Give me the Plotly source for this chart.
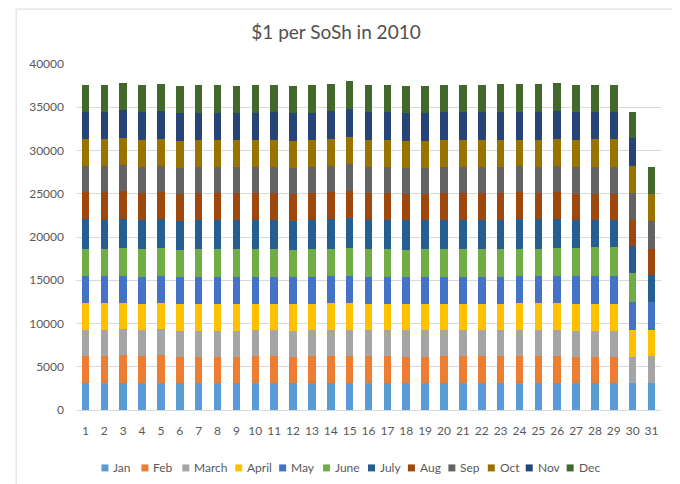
import plotly.graph_objects as go

days = [str(d) for d in range(1, 32)]
months = ["Jan", "Feb", "March", "April", "May", "June", "July", "Aug", "Sep", "Oct", "Nov", "Dec"]

jan = [3150,3150,3160,3140,3160,3080,3080,3080,3080,3090,3100,3080,3090,3120,3120,3100,3090,3080,3080,3100,3110,3110,3100,3120,3100,3120,3080,3070,3070,3150,3150]
feb = [3115,3090,3150,3070,3150,3100,3100,3100,3100,3110,3120,3100,3110,3120,3110,3120,3130,3090,3100,3100,3110,3100,3110,3110,3130,3120,3100,3080,3080,None,None]
mar = [3040,3040,3060,3040,3010,3000,3000,3000,3010,3020,3030,3010,3020,3040,3040,3040,3030,3030,3020,3030,3030,3040,3040,3040,3040,3040,3010,3000,3000,3000,3080]
apr = [3035,3050,3010,3040,3050,3040,3050,3060,3050,3050,3050,3040,3050,3050,3080,3050,3050,3040,3050,3050,3050,3060,3060,3050,3060,3060,3110,3150,3150,3080,3000]
may = [3115,3110,3140,3110,3110,3110,3120,3120,3120,3110,3110,3110,3110,3130,3140,3120,3110,3110,3110,3110,3110,3120,3120,3130,3120,3130,3180,3200,3200,3260,3260]
jun = [3195,3200,3210,3200,3200,3200,3210,3210,3200,3200,3200,3200,3200,3210,3250,3200,3210,3200,3200,3210,3210,3200,3210,3210,3210,3240,3300,3340,3340,3350,None]
jul = [3380,3380,3400,3370,3380,3350,3370,3360,3370,3360,3370,3350,3360,3380,3420,3370,3370,3360,3360,3370,3370,3370,3380,3370,3370,3380,3200,3160,3160,3110,3160]
aug = [3150,3140,3160,3130,3170,3120,3120,3120,3110,3110,3120,3120,3110,3130,3200,3110,3110,3100,3100,3110,3110,3100,3110,3120,3110,3120,3010,3000,3000,3050,2920]
sep = [3000,3010,3020,3010,3010,3010,3010,3000,3000,3000,3010,3000,3000,3010,3050,3000,3000,3000,3000,3000,3000,3010,3010,3010,3000,3020,3050,3060,3060,3070,3230]
oct_ = [3120,3120,3130,3120,3130,3110,3120,3120,3130,3120,3130,3110,3120,3130,3170,3110,3120,3120,3110,3120,3110,3110,3120,3110,3120,3120,3230,3240,3240,3190,3200]
nov = [3190,3190,3200,3200,3190,3200,3200,3200,3200,3200,3200,3200,3200,3200,3220,3200,3200,3200,3200,3200,3200,3200,3200,3200,3200,3200,3190,3190,3190,3190,None]
dec = [3110,3080,3150,3130,3120,3150,3140,3150,3140,3150,3160,3130,3150,3140,3220,3160,3140,3160,3150,3160,3150,3140,3180,3170,3180,3210,3100,3070,3070,3040,3060]

series = [jan, feb, mar, apr, may, jun, jul, aug, sep, oct_, nov, dec]
colors = ["#5B9BD5", "#ED7D31", "#A5A5A5", "#FFC000", "#4472C4", "#70AD47",
          "#255E91", "#9E480E", "#636363", "#997300", "#264478", "#43682B"]

FONT = "Lato"
TXT = "#595959"

fig = go.Figure()
for name, vals, col in zip(months, series, colors):
    fig.add_trace(go.Bar(x=days, y=vals, name=name, marker=dict(color=col, line=dict(width=0)),
                         showlegend=False))

# page geometry (pixels in the 680x484 window); the page body adds an 8px margin
OFF = 8
PAGE_W, PAGE_H = 680, 484
W, H = PAGE_W - OFF, PAGE_H - OFF
L, R, T, B = 75.5 - OFF, 661.5 - OFF, 63.5 - OFF, 410 - OFF
pw, ph = R - L, B - T

def px_x(p):
    return (p - OFF - L) / pw

def px_y(p):
    return (B - (p - OFF)) / ph

shapes = []
annotations = []
# chart-area border
shapes.append(dict(type="rect", xref="paper", yref="paper",
                   x0=px_x(15.5), x1=px_x(676), y0=px_y(495), y1=px_y(8.5),
                   line=dict(color="#D9D9D9", width=1), fillcolor="rgba(0,0,0,0)", layer="below"))

# custom legend
legend_left = [101, 141, 182, 235, 279, 323, 368, 408, 448.5, 488, 526, 567]
ly = 468
for name, col, lx in zip(months, colors, legend_left):
    shapes.append(dict(type="rect", xref="paper", yref="paper",
                       x0=px_x(lx), x1=px_x(lx + 7), y0=px_y(ly + 3.5), y1=px_y(ly - 3.5),
                       line=dict(width=0), fillcolor=col))
    annotations.append(dict(text=name, xref="paper", yref="paper", x=px_x(lx + 10), y=px_y(ly),
                            xanchor="left", yanchor="middle", showarrow=False,
                            font=dict(family=FONT, size=12, color=TXT)))

fig.update_layout(
    width=W, height=H,
    margin=dict(l=L, r=W - R, t=T, b=H - B, pad=0),
    paper_bgcolor="white", plot_bgcolor="white",
    barmode="stack", bargap=0.6,
    title=dict(text="$1 per SoSh in 2010", x=(336 - OFF) / W, xanchor="center",
               y=1 - (32 - OFF) / H, yanchor="middle",
               xref="container", yref="container",
               font=dict(family=FONT, size=19, color="#505050")),
    font=dict(family=FONT, size=12, color=TXT),
    shapes=shapes, annotations=annotations,
    showlegend=False,
)
fig.update_xaxes(type="category", showgrid=False, showline=False, zeroline=False,
                 ticks="", ticklabelstandoff=12, tickfont=dict(family=FONT, size=12, color=TXT))
fig.update_yaxes(range=[0, 40000], dtick=5000, showgrid=True, gridcolor="#D9D9D9", gridwidth=1,
                 zeroline=True, zerolinecolor="#D9D9D9", zerolinewidth=1, showline=False,
                 ticks="", ticklabelstandoff=11, tickformat="d",
                 tickfont=dict(family=FONT, size=12, color=TXT))

fig.write_html("out.html")
